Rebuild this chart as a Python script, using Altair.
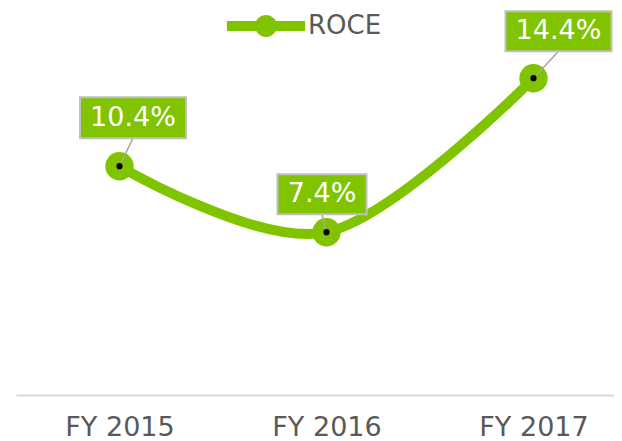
import altair as alt
import pandas as pd

years = ["FY 2015", "FY 2016", "FY 2017"]
roce = [10.4, 7.4, 14.4]
labels = ["10.4%", "7.4%", "14.4%"]
series_name = "ROCE"

df = pd.DataFrame({"year": years, "roce": roce, "label": labels,
                   "series": [series_name] * len(years)})

GREEN = "#80C400"
FONT = "DejaVu Sans"

x_enc = alt.X("year:N", sort=years,
              scale=alt.Scale(type="point", range=[0, 621], padding=0.5),
              axis=alt.Axis(title=None, ticks=False, tickSize=0, grid=False,
                            domainColor="#D9D9D9", domainWidth=2,
                            labelFontSize=27, labelColor="#595959", labelFont=FONT,
                            labelPadding=19, labelAngle=0))
y_enc = alt.Y("roce:Q", scale=alt.Scale(domain=[0, 16]), axis=None)

base = alt.Chart(df)

line = base.mark_line(interpolate="cardinal", strokeWidth=10, color=GREEN).encode(x=x_enc, y=y_enc)

legend_path = ("M-3.55,-0.45 H3.55 V0.45 H-3.55 Z "
               "M1,0 A1,1 0 1,1 -1,0 A1,1 0 1,1 1,0 Z")

circles = base.mark_point(filled=True, size=804, opacity=1).encode(
    x=x_enc, y=y_enc,
    color=alt.Color("series:N", scale=alt.Scale(range=[GREEN]),
                    legend=alt.Legend(title=None, orient="none", legendX=237, legendY=-30,
                                      padding=0, symbolType=legend_path, symbolSize=484,
                                      symbolOpacity=1, symbolStrokeWidth=0,
                                      labelFontSize=26, labelColor="#595959", labelFont=FONT,
                                      labelOffset=29)))

# label box style per category: (dx, dy, width, height)
box_style = {
    "FY 2015": (13.5, -48.5, 106, 41),
    "FY 2016": (-4.5, -38, 89, 40),
    "FY 2017": (25, -47, 106, 40),
}

layers = [line, circles]
boxes = []
for yr in years:
    dx, dy, w, h = box_style[yr]
    sub = base.transform_filter(alt.datum.year == yr)
    rule = sub.mark_rule(color="#A6A6A6", strokeWidth=1.5,
                         x2Offset=dx, y2Offset=dy + h / 2).encode(
        x=x_enc, y=y_enc, x2="year:N", y2="roce:Q")
    layers.append(rule)
    r = w / h
    path = f"M{-r:.3f},-1 H{r:.3f} V1 H{-r:.3f} Z"
    box = sub.mark_point(shape=path, size=h * h, filled=True, fill=GREEN, opacity=1,
                         stroke="#BFBFBF", strokeWidth=2, xOffset=dx, yOffset=dy).encode(
        x=x_enc, y=y_enc)
    txt = sub.mark_text(fontSize=27, font=FONT, color="white", align="center",
                        baseline="middle", xOffset=dx, yOffset=dy).encode(
        x=x_enc, y=y_enc, text="label:N")
    boxes += [box, txt]

dots = base.mark_point(filled=True, size=38, color="black", opacity=1).encode(x=x_enc, y=y_enc)
layers.append(dots)
layers += boxes

chart = alt.layer(*layers).properties(
    width=598, height=352,
    autosize=alt.AutoSizeParams(type="none"),
    padding={"left": 8, "top": 35, "right": 0, "bottom": 46},
).configure(font=FONT).configure_view(stroke=None)

chart.save("out.html", embed_options={"renderer": "svg", "actions": False})
